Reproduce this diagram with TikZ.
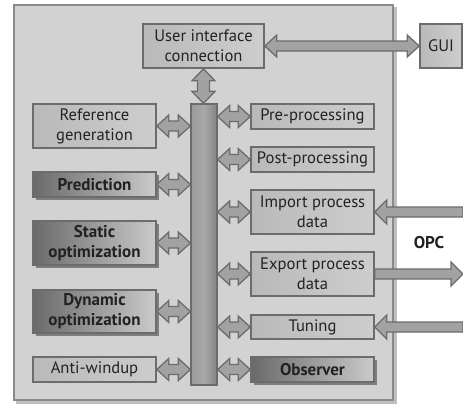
\documentclass[tikz,border=0pt]{standalone}
\usepackage{fontspec}
\setmainfont{PT Sans}
\usetikzlibrary{calc,shadows}
\definecolor{bg}{HTML}{D2D2D2}
\definecolor{frameline}{HTML}{8A8A8A}
\definecolor{boxline}{HTML}{6C6C6C}
\definecolor{arrowfill}{HTML}{A2A2A2}
\definecolor{txt}{HTML}{222222}
\definecolor{lightL}{HTML}{B9B9B9}
\definecolor{lightR}{HTML}{CDCDCD}
\definecolor{darkL}{HTML}{6A6A6A}
\definecolor{darkR}{HTML}{CACACA}
\definecolor{busL}{HTML}{9A9A9A}
\definecolor{busM}{HTML}{A8A8A8}
\definecolor{busR}{HTML}{838383}
\tikzset{
  box/.style={draw=boxline, line width=1.6pt, minimum width=123pt, inner sep=0pt,
    align=center, text=txt, left color=lightL, right color=lightR,
    font=\fontsize{16.6pt}{20pt}\selectfont},
  darkbox/.style={box, left color=darkL, right color=darkR,
    font=\fontsize{17pt}{20pt}\selectfont\bfseries,
    drop shadow={shadow xshift=3pt, shadow yshift=-3pt, fill=black, opacity=0.4}},
  fat/.style={draw=boxline, line width=1.3pt, fill=arrowfill, line join=miter},
  lbl/.style={inner sep=0pt, text=txt, font=\fontsize{17pt}{20pt}\selectfont\bfseries},
}
% horizontal double arrow between two points
\newcommand\hdbl[2]{\draw[fat] let \p1=#1, \p2=#2, \n1={sign(\x2-\x1)} in
  (\x1,\y1) -- (\x1+\n1*12pt,\y1+11pt) -- (\x1+\n1*12pt,\y1+5pt) -- (\x2-\n1*12pt,\y1+5pt)
  -- (\x2-\n1*12pt,\y1+11pt) -- (\x2,\y1) -- (\x2-\n1*12pt,\y1-11pt) -- (\x2-\n1*12pt,\y1-5pt)
  -- (\x1+\n1*12pt,\y1-5pt) -- (\x1+\n1*12pt,\y1-11pt) -- cycle;}
% horizontal single arrow, head at #2
\newcommand\hsgl[2]{\draw[fat] let \p1=#1, \p2=#2, \n1={sign(\x2-\x1)} in
  (\x1,\y1+5pt) -- (\x2-\n1*12pt,\y1+5pt) -- (\x2-\n1*12pt,\y1+12pt) -- (\x2,\y1)
  -- (\x2-\n1*12pt,\y1-12pt) -- (\x2-\n1*12pt,\y1-5pt) -- (\x1,\y1-5pt) -- cycle;}
% vertical double arrow
\newcommand\vdbl[2]{\draw[fat] let \p1=#1, \p2=#2, \n1={sign(\y2-\y1)} in
  (\x1,\y1) -- (\x1+11.5pt,\y1+\n1*12pt) -- (\x1+6pt,\y1+\n1*12pt) -- (\x1+6pt,\y2-\n1*12pt)
  -- (\x1+11.5pt,\y2-\n1*12pt) -- (\x1,\y2) -- (\x1-11.5pt,\y2-\n1*12pt) -- (\x1-6pt,\y2-\n1*12pt)
  -- (\x1-6pt,\y1+\n1*12pt) -- (\x1-11.5pt,\y1+\n1*12pt) -- cycle;}
\begin{document}
\begin{tikzpicture}[x=1pt,y=-1pt]
\useasboundingbox[fill=white] (0,0) rectangle (463,407);
% outer frame with shadow
\fill[black, opacity=0.25] (16,7) rectangle (397,404);
\draw[draw=frameline, fill=bg, line width=2pt] (14,5) rectangle (393,400);
% nodes
\node[box, minimum width=121pt, minimum height=44pt] (ui) at (203.5,46) {User interface\\connection};
\node[box, minimum width=42pt, minimum height=44pt] (gui) at (441,46) {GUI};
\node[draw=boxline, line width=1.3pt, left color=busL, right color=busR, middle color=busM,
      minimum width=26pt, minimum height=281pt, inner sep=0pt] (bus) at (204,244.5) {};
\node[box, minimum height=44pt] (ref) at (94.5,126) {Reference\\generation};
\node[darkbox, minimum height=25pt] (pred) at (94.5,184.5) {Prediction};
\node[darkbox, minimum height=44pt] (stat) at (94.5,243) {Static\\optimization};
\node[darkbox, minimum height=43pt] (dyn) at (94.5,311.5) {Dynamic\\optimization};
\node[box, minimum height=25pt] (anti) at (94.5,369.5) {Anti-windup};
\node[box, minimum height=25pt] (pre) at (312.5,116.5) {Pre-processing};
\node[box, minimum height=25pt] (post) at (312.5,159.5) {Post-processing};
\node[box, minimum height=44pt] (imp) at (312.5,212) {Import process\\data};
\node[box, minimum height=44pt] (exp) at (312.5,274) {Export process\\data};
\node[box, minimum height=24pt] (tun) at (312.5,327) {Tuning};
\node[darkbox, minimum height=25pt] (obs) at (312.5,369.5) {Observer};
\node[lbl] (opc) at (429,243) {OPC};
\coordinate (edge) at (463,0);
% connectors
\hdbl{(ui.east)}{(gui.west)}
\vdbl{(ui.south)}{(ui.south |- bus.north)}
\foreach \b in {ref,pred,stat,dyn,anti}{\hdbl{(\b.east)}{(\b.east -| bus.west)}}
\foreach \b in {pre,post,imp,exp,tun,obs}{\hdbl{(\b.west -| bus.east)}{(\b.west)}}
\hsgl{(imp.east -| edge)}{(imp.east)}
\hsgl{(exp.east)}{(exp.east -| edge)}
\hsgl{(tun.east -| edge)}{(tun.east)}
\end{tikzpicture}
\end{document}
